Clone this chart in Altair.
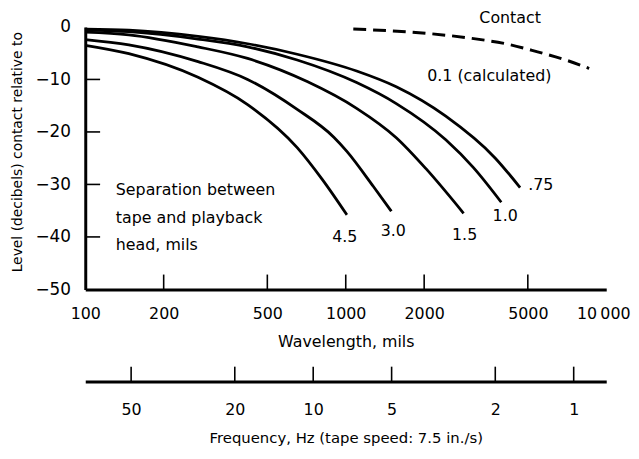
import altair as alt
import pandas as pd

# ---- values --------------------------------------------------------------
# wavelength (mils) / level (dB) per head-to-tape separation (mils)
sep_075_wl = [100, 147, 271, 420, 651, 1101, 1563, 2421, 3751, 4670]
sep_075_db = [-0.4, -0.6, -1.8, -3.2, -5.2, -8.4, -11.4, -17.0, -25.0, -30.6]
sep_10_wl = [100, 147, 271, 420, 651, 1101, 1563, 2421, 3092, 3954]
sep_10_db = [-0.6, -0.9, -2.3, -3.8, -6.3, -10.6, -14.6, -21.5, -26.8, -33.4]
sep_15_wl = [100, 147, 271, 420, 711, 1101, 1563, 2032, 2834]
sep_15_db = [-1.0, -1.5, -3.8, -6.0, -10.4, -15.5, -21.1, -27.0, -35.5]
sep_30_wl = [100, 147, 271, 420, 651, 900, 1010, 1277, 1496]
sep_30_db = [-2.4, -3.4, -6.6, -10.0, -15.7, -21.0, -23.7, -30.4, -35.1]
sep_45_wl = [100, 147, 271, 420, 651, 811, 1010]
sep_45_db = [-3.5, -5.1, -9.6, -14.8, -23.0, -29.0, -35.8]
contact_wl = [1069, 1910, 2970, 4200, 5320, 7100, 8600]
contact_db = [-0.4, -1.1, -2.1, -3.3, -4.6, -6.4, -7.9]

wl_ticks = [100, 200, 500, 1000, 2000, 5000, 10000]
inner_x_ticks = [200, 500, 1000, 2000, 5000]
db_ticks = [0, -10, -20, -30, -40, -50]
inner_y_ticks = [-10, -20, -30, -40]
freq_hz = [50, 20, 10, 5, 2, 1]
tape_speed_mils = 7500  # 7.5 in./s expressed in mils per second

curve_labels = [".75", "1.0", "1.5", "3.0", "4.5", "Contact", "0.1 (calculated)"]
curve_label_wl = [5610, 4094, 2860, 1523, 991, 4277, 3558]
curve_label_db = [-30.2, -36.0, -39.6, -38.9, -40.0, 1.7, -9.4]

note_lines = ["Separation between", "tape and playback", "head, mils"]
note_wl = [131, 131, 131]
note_db = [-31.1, -36.4, -41.5]

# ---- tables -------------------------------------------------------------
rows = []
for name, wls, dbs in [(".75", sep_075_wl, sep_075_db), ("1.0", sep_10_wl, sep_10_db),
                       ("1.5", sep_15_wl, sep_15_db), ("3.0", sep_30_wl, sep_30_db),
                       ("4.5", sep_45_wl, sep_45_db)]:
    for w, d in zip(wls, dbs):
        rows.append({"sep": name, "wl": w, "db": d})
curves = pd.DataFrame(rows)
contact = pd.DataFrame({"wl": contact_wl, "db": contact_db})
xt = pd.DataFrame({"wl": inner_x_ticks})
yt = pd.DataFrame({"db": inner_y_ticks})
freq = pd.DataFrame({"f": freq_hz, "wl": [tape_speed_mils / f for f in freq_hz]})
labels = pd.DataFrame({"t": curve_labels, "wl": curve_label_wl, "db": curve_label_db})
notes = pd.DataFrame({"t": note_lines, "wl": note_wl, "db": note_db})

FONT = "DejaVu Sans"
W, H = 526, 265
TICK = 15
FREQ_OFFSET = 93

x_scale = alt.Scale(type="log", domain=[100, 10000], nice=False)
y_scale = alt.Scale(domain=[-50, 0], nice=False, zero=False)

x_axis = alt.Axis(values=wl_ticks, title="Wavelength, mils",
                  labelExpr="datum.value == 10000 ? '10\u2009000' : format(datum.value, 'd')",
                  labelOffset={"condition": {"test": "datum.value == 10000", "value": -3}, "value": 0},
                  labelFontSize=16, labelPadding=16, titleFontSize=16, titlePadding=13,
                  titleFontWeight="normal", labelFlush=False, labelOverlap=False)
y_axis = alt.Axis(values=db_ticks, title="Level (decibels) contact relative to",
                  labelFontSize=17, labelPadding=15, titleFontSize=14, titleFontWeight="normal",
                  titleX=-68, titleY=126, titleBaseline="middle", titleAlign="center",
                  labelOverlap=False)

lines = alt.Chart(curves).mark_line(color="black", strokeWidth=2.8, interpolate="monotone").encode(
    x=alt.X("wl:Q", scale=x_scale, axis=x_axis),
    y=alt.Y("db:Q", scale=y_scale, axis=y_axis),
    detail="sep:N",
)

dashed = alt.Chart(contact).mark_line(color="black", strokeWidth=3, strokeDash=[13, 7],
                                      interpolate="monotone").encode(
    x=alt.X("wl:Q", scale=x_scale, axis=None),
    y=alt.Y("db:Q", scale=y_scale, axis=None),
)

xticks = alt.Chart(xt).mark_rule(color="black", strokeWidth=1.6).encode(
    x=alt.X("wl:Q", scale=x_scale, axis=None),
    y=alt.value(H), y2=alt.value(H - TICK),
)

yticks = alt.Chart(yt).mark_rule(color="black", strokeWidth=1.6).encode(
    y=alt.Y("db:Q", scale=y_scale, axis=None),
    x=alt.value(0), x2=alt.value(TICK),
)

freq_axis = alt.Axis(orient="bottom", offset=FREQ_OFFSET, values=[tape_speed_mils / f for f in freq_hz],
                     labelExpr=f"format({tape_speed_mils} / datum.value, 'd')",
                     title="Frequency, Hz (tape speed: 7.5 in./s)",
                     labelFontSize=16, labelPadding=20, titleFontSize=15, titlePadding=14,
                     titleFontWeight="normal", labelFlush=False, labelOverlap=False)

fticks = alt.Chart(freq).mark_rule(color="black", strokeWidth=1.6).encode(
    x=alt.X("wl:Q", scale=x_scale, axis=freq_axis),
    y=alt.value(H + FREQ_OFFSET), y2=alt.value(H + FREQ_OFFSET - TICK),
)

label_marks = alt.Chart(labels).mark_text(font=FONT, fontSize=16, color="black",
                                          align="center", baseline="middle").encode(
    x=alt.X("wl:Q", scale=x_scale, axis=None),
    y=alt.Y("db:Q", scale=y_scale, axis=None),
    text="t:N",
)

note_marks = alt.Chart(notes).mark_text(font=FONT, fontSize=16, color="black",
                                        align="left", baseline="middle").encode(
    x=alt.X("wl:Q", scale=x_scale, axis=None),
    y=alt.Y("db:Q", scale=y_scale, axis=None),
    text="t:N",
)

chart = alt.layer(lines, dashed, xticks, yticks, fticks, label_marks, note_marks).resolve_axis(
    x="independent", y="independent"
).properties(
    width=W, height=H,
    autosize=alt.AutoSizeParams(type="none"),
    padding={"left": 78, "top": 17, "right": 25, "bottom": 160},
    background="white",
).configure_view(stroke=None).configure_axis(
    grid=False, ticks=False, domainColor="black", domainWidth=3,
    labelColor="black", titleColor="black", labelFont=FONT, titleFont=FONT,
)

chart.save("out.html", embed_options={"renderer": "svg", "actions": False})
